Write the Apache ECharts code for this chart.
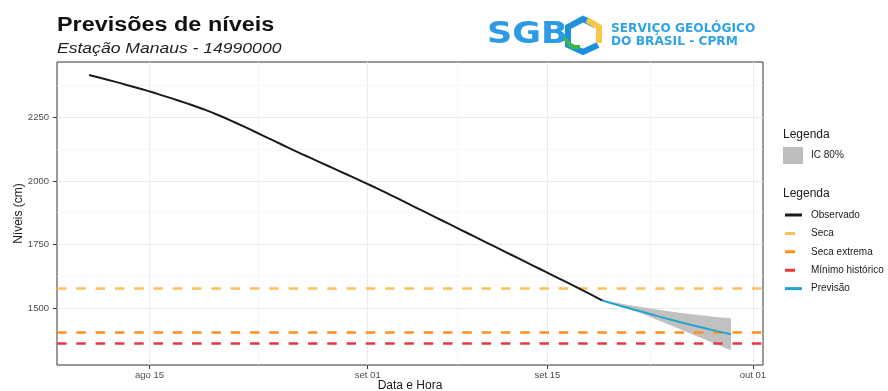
<!DOCTYPE html>
<html>
<head>
<meta charset="utf-8">
<script src="https://cdn.jsdelivr.net/npm/echarts@6/dist/echarts.min.js"></script>
<style>
  html, body { margin: 0; padding: 0; background: #fff; }
  #chart { width: 888px; height: 391px; }
</style>
</head>
<body>
<div id="chart"></div>
<script>
// observed levels, one reading a day from 10 Aug 2024 07:00
const obsStart = "2024-08-10T07:00:00Z";
const obsValues = [2416, 2403, 2390, 2376, 2362, 2347, 2331, 2315, 2298, 2280, 2260,
  2238, 2215, 2191, 2167, 2143, 2119,
  2096, 2073, 2050, 2027, 2004, 1981,
  1957, 1932, 1907, 1882, 1857, 1832, 1807,
  1782, 1757, 1732, 1707, 1682, 1657, 1632, 1607, 1582,
  1556, 1530];

// forecast + 80% interval, daily from 19 Sep 2024 07:00
const fcStart = "2024-09-19T07:00:00Z";
const fcValues = [1530, 1515, 1501, 1487, 1473, 1459, 1446, 1433, 1421, 1409, 1398];
const fcUpper = [1530, 1522, 1513, 1505, 1497, 1489, 1482, 1476, 1470, 1465, 1461];
const fcLower = [1530, 1512, 1497, 1480, 1460, 1439, 1418, 1397, 1377, 1356, 1335];

// reference levels
const seca = 1580;
const secaExtrema = 1405;
const minimoHistorico = 1364;

// axis ticks
const xTickDates = ["2024-08-15", "2024-09-01", "2024-09-15", "2024-10-01"];
const xTickLabels = ["ago 15", "set 01", "set 15", "out 01"];
const xMinorDates = ["2024-08-23T12:00:00Z", "2024-09-08", "2024-09-23"];
const yTicks = [1500, 1750, 2000, 2250];
const yMinor = [1375, 1625, 1875, 2125, 2375];

const DAY = 86400000;
const ts = (s) => new Date(s.length === 10 ? s + "T00:00:00Z" : s).getTime();

function daily(start, values) {
  const t0 = ts(start);
  return values.map((v, i) => [t0 + i * DAY, v]);
}

const observed = daily(obsStart, obsValues);
const forecast = daily(fcStart, fcValues);
const bandRows = forecast.map((p, i) => [p[0], fcUpper[i], fcLower[i]]);

const xTicks = xTickDates.map(ts);
const xMin = observed[0][0] - 2.5 * DAY;
const xMax = forecast[forecast.length - 1][0] + 2.5 * DAY;

const FONT = "Liberation Sans";
const colors = {
  obs: "#1a1a1a",
  seca: "#FDC05A",
  extrema: "#FF8E1C",
  minimo: "#E8373F",
  prev: "#22A6CD",
  ic: "#BEBEBE",
};

function hline(name, value, color) {
  return {
    name,
    type: "line",
    data: [],
    color,
    z: 3,
    markLine: {
      z: 3,
      silent: true,
      symbol: ["none", "none"],
      label: { show: false },
      lineStyle: { color, width: 2.5, type: [9.5, 9.8] },
      data: [{ yAxis: value }],
    },
  };
}

const gridMajor = { color: "#EBEBEB", width: 1, type: "solid" };
const gridMinor = { color: "#F4F4F4", width: 0.7, type: "solid" };

const dashIcon = "path://M0,0h10v3h-10zM16.95,0h0.05v3h-0.05z";

const chart = echarts.init(document.getElementById("chart"), null, { renderer: "canvas" });

chart.setOption({
  animation: false,
  backgroundColor: "#fff",
  textStyle: { fontFamily: FONT },
  grid: {
    left: 57,
    right: 125,
    top: 62,
    bottom: 26,
    outerBoundsMode: "none",
    containLabel: false,
    show: true,
    borderColor: "#333",
    borderWidth: 1,
    backgroundColor: "#fff",
  },
  xAxis: {
    type: "value",
    min: xMin,
    max: xMax,
    name: "Data e Hora",
    nameLocation: "middle",
    nameGap: 15,
    nameMoveOverlap: false,
    nameTextStyle: { fontSize: 12, color: "#1a1a1a", fontFamily: FONT },
    axisLine: { show: false },
    splitLine: { show: false },
    axisTick: { show: true, length: 4, customValues: xTicks, lineStyle: { color: "#333" } },
    axisLabel: {
      customValues: xTicks,
      margin: 5,
      fontSize: 9.5,
      color: "#4D4D4D",
      fontFamily: FONT,
      formatter: (v) => xTickLabels[xTicks.indexOf(v)] || "",
    },
  },
  yAxis: {
    type: "value",
    min: 1277,
    max: 2467,
    name: "Níveis (cm)",
    nameLocation: "middle",
    nameGap: 32,
    nameMoveOverlap: false,
    nameTextStyle: { fontSize: 12, color: "#1a1a1a", fontFamily: FONT },
    axisLine: { show: false },
    splitLine: { show: false },
    axisTick: { show: true, length: 4, customValues: yTicks, lineStyle: { color: "#333" } },
    axisLabel: {
      customValues: yTicks,
      margin: 8,
      fontSize: 9.5,
      color: "#4D4D4D",
      fontFamily: FONT,
      formatter: (v) => String(v),
    },
  },
  legend: [
    {
      orient: "vertical",
      left: 783,
      top: 147,
      padding: 0,
      itemWidth: 20,
      itemHeight: 17,
      selectedMode: false,
      data: [{ name: "IC 80%", icon: "rect" }],
      textStyle: { fontSize: 10, color: "#1a1a1a", fontFamily: FONT, padding: [0, 0, 0, 3] },
    },
    {
      orient: "vertical",
      left: 785,
      top: 208,
      padding: 0,
      itemWidth: 17,
      itemHeight: 3,
      itemGap: 4.4,
      selectedMode: false,
      data: [
        { name: "Observado", icon: "rect" },
        { name: "Seca", icon: dashIcon },
        { name: "Seca extrema", icon: dashIcon },
        { name: "Mínimo histórico", icon: dashIcon },
        { name: "Previsão", icon: "rect" },
      ],
      textStyle: { fontSize: 10, lineHeight: 14, color: "#1a1a1a", fontFamily: FONT, padding: [0, 0, 0, 4] },
    },
  ],
  graphic: [
    {
      type: "text", x: 57, y: 25, scaleX: 1.17,
      style: { text: "Previsões de níveis", font: `bold 20px "${FONT}"`, fill: "#111", verticalAlign: "middle" },
    },
    {
      type: "text", x: 57, y: 49, scaleX: 1.17,
      style: { text: "Estação Manaus - 14990000", font: `italic 15px "${FONT}"`, fill: "#222", verticalAlign: "middle" },
    },
    { type: "text", left: 783, top: 129, style: { text: "Legenda", font: `12px "${FONT}"`, fill: "#1a1a1a" } },
    { type: "text", left: 783, top: 188, style: { text: "Legenda", font: `12px "${FONT}"`, fill: "#1a1a1a" } },
    // logo
    {
      type: "text", x: 487, y: 35, scaleX: 1.17,
      style: { text: "SGB", font: '900 30px "DejaVu Sans"', fill: "#2C9AE5", verticalAlign: "middle" },
    },
    {
      type: "polyline",
      shape: { points: [[595, 25], [583, 19], [568, 27], [568, 45], [583, 52], [598, 45]] },
      style: { stroke: "#1D8FDD", lineWidth: 6, fill: null, lineJoin: "miter" },
    },
    {
      type: "polyline",
      shape: { points: [[587, 20], [599, 27], [599, 43]] },
      style: { stroke: "#F7C948", lineWidth: 6, fill: null },
    },
    {
      type: "polyline",
      shape: { points: [[564, 38], [572, 47], [580, 47]] },
      style: { stroke: "#3DB54A", lineWidth: 4, fill: null },
    },
    { type: "text", x: 611, y: 29.5, scaleX: 1.06, style: { text: "SERVIÇO GEOLÓGICO", font: '900 11.5px "DejaVu Sans"', fill: "#2FA3E6", verticalAlign: "middle" } },
    { type: "text", x: 611, y: 42, scaleX: 1.06, style: { text: "DO BRASIL - CPRM", font: '900 11.5px "DejaVu Sans"', fill: "#2FA3E6", verticalAlign: "middle" } },
  ],
  series: [
    {
      name: "grid",
      type: "line",
      data: [],
      z: 0,
      markLine: {
        z: 0,
        silent: true,
        symbol: ["none", "none"],
        label: { show: false },
        data: [
          ...xMinorDates.map((d) => ({ xAxis: ts(d), lineStyle: gridMinor })),
          ...yMinor.map((v) => ({ yAxis: v, lineStyle: gridMinor })),
          ...xTicks.map((t) => ({ xAxis: t, lineStyle: gridMajor })),
          ...yTicks.map((v) => ({ yAxis: v, lineStyle: gridMajor })),
        ],
      },
    },
    {
      name: "IC 80%",
      type: "custom",
      data: bandRows,
      color: colors.ic,
      itemStyle: { color: colors.ic },
      encode: { x: 0, y: [1, 2] },
      silent: true,
      z: 2,
      renderItem: (params, api) => {
        if (params.dataIndex !== 0) return null;
        const top = bandRows.map((r) => api.coord([r[0], r[1]]));
        const bottom = bandRows.map((r) => api.coord([r[0], r[2]])).reverse();
        return {
          type: "polygon",
          shape: { points: top.concat(bottom) },
          style: { fill: colors.ic, opacity: 0.95 },
        };
      },
    },
    hline("Seca", seca, colors.seca),
    hline("Seca extrema", secaExtrema, colors.extrema),
    hline("Mínimo histórico", minimoHistorico, colors.minimo),
    {
      name: "Observado",
      type: "line",
      data: observed,
      color: colors.obs,
      symbol: "none",
      smooth: 0.2,
      lineStyle: { width: 2, color: colors.obs },
      z: 4,
    },
    {
      name: "Previsão",
      type: "line",
      data: forecast,
      color: colors.prev,
      symbol: "none",
      smooth: 0.3,
      lineStyle: { width: 2, color: colors.prev },
      z: 5,
    },
  ],
});
</script>
</body>
</html>
